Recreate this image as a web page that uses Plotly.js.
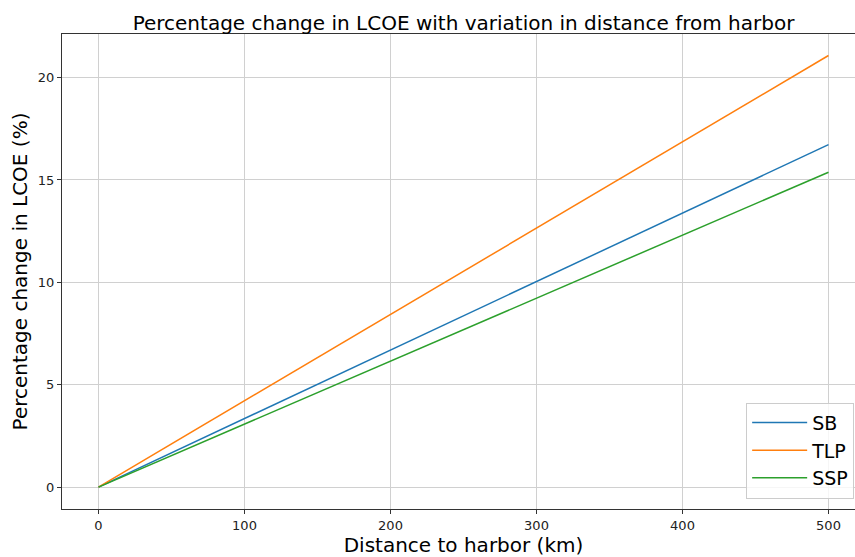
<!DOCTYPE html>
<html>
<head>
<meta charset="utf-8">
<script src="https://cdn.plot.ly/plotly-3.0.1.min.js"></script>
<style>
html,body{margin:0;padding:0;overflow:hidden;background:#fff;}
#chart{width:866px;height:557px;}
</style>
</head>
<body>
<div id="chart"></div>
<script>
var distance = [0, 100, 200, 300, 400, 500];
var sbValues = [0, 3.35, 6.70, 10.04, 13.39, 16.73];
var tlpValues = [0, 4.22, 8.44, 12.65, 16.87, 21.08];
var sspValues = [0, 3.08, 6.15, 9.23, 12.31, 15.38];
var seriesNames = ['SB', 'TLP', 'SSP'];
var seriesColors = ['#1f77b4', '#ff7f0e', '#2ca02c'];
var xTicks = [0, 100, 200, 300, 400, 500];
var yTicks = [0, 5, 10, 15, 20];

var allValues = [sbValues, tlpValues, sspValues];
var traces = allValues.map(function (vals, i) {
  return {
    x: distance, y: vals, type: 'scatter', mode: 'lines',
    name: seriesNames[i],
    line: {color: seriesColors[i], width: 1.5}
  };
});

var font = 'DejaVu Sans, sans-serif';
var layout = {
  width: 866, height: 557,
  margin: {l: 62, r: 1, t: 34, b: 48},
  paper_bgcolor: '#fff', plot_bgcolor: '#fff',
  font: {family: font, color: '#000'},
  title: {text: 'Percentage change in LCOE with variation in distance from harbor',
          font: {size: 20, family: font, color: '#000'},
          x: 0.5, xref: 'paper', xanchor: 'center', y: 1, yref: 'paper', yanchor: 'bottom', pad: {b: 4}},
  xaxis: {
    range: [-25, 525], tickvals: xTicks, ticktext: xTicks.map(String),
    showgrid: true, gridcolor: '#d0d0d0', gridwidth: 1, zeroline: false,
    showline: true, linecolor: '#333', linewidth: 1, mirror: true,
    ticks: 'outside', ticklen: 4, tickcolor: '#333', tickwidth: 1,
    tickfont: {size: 13, family: font, color: '#222'},
    title: {text: 'Distance to harbor (km)', font: {size: 20, family: font, color: '#000'}, standoff: 5}
  },
  yaxis: {
    range: [-1.07, 22.13], tickvals: yTicks, ticktext: yTicks.map(String),
    showgrid: true, gridcolor: '#d0d0d0', gridwidth: 1, zeroline: false,
    showline: true, linecolor: '#333', linewidth: 1, mirror: true,
    ticks: 'outside', ticklen: 4, tickcolor: '#333', tickwidth: 1,
    tickfont: {size: 13, family: font, color: '#222'},
    title: {text: 'Percentage change in LCOE (%)', font: {size: 20, family: font, color: '#000'}, standoff: 4}
  },
  showlegend: true,
  legend: {
    x: 0.852, y: 0.224, xanchor: 'left', yanchor: 'top',
    bgcolor: 'rgba(255,255,255,0.8)', bordercolor: '#cccccc', borderwidth: 1,
    font: {size: 19, family: font, color: '#000'},
    itemwidth: 55,
    tracegroupgap: 0
  }
};

Plotly.newPlot('chart', traces, layout, {displayModeBar: false, staticPlot: true});
</script>
</body>
</html>
